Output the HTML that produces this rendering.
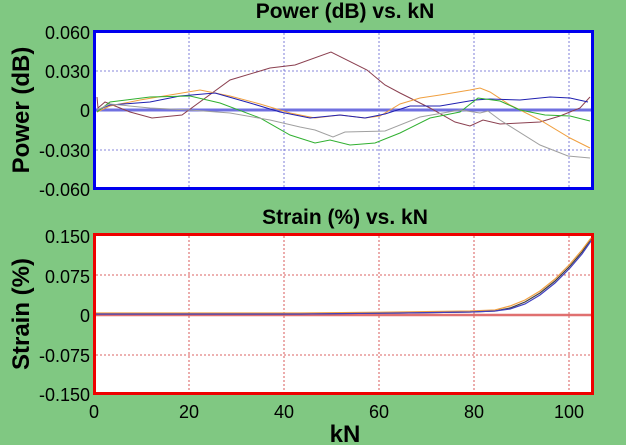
<!DOCTYPE html>
<html><head><meta charset="utf-8"><style>
body{margin:0;background:#80c882;}
svg{display:block;font-family:"Liberation Sans",sans-serif;}
</style></head><body>
<svg width="626" height="445" viewBox="0 0 626 445">
<rect width="626" height="445" fill="#80c882"/>
<text x="345" y="18" font-size="21" font-weight="bold" text-anchor="middle">Power (dB) vs. kN</text>
<text x="345" y="224" font-size="21" font-weight="bold" text-anchor="middle">Strain (%) vs. kN</text>
<text transform="translate(29,110) rotate(-90)" font-size="24" font-weight="bold" text-anchor="middle">Power (dB)</text>
<text transform="translate(29,314) rotate(-90)" font-size="24" font-weight="bold" text-anchor="middle">Strain (%)</text>
<g font-size="18" text-anchor="end">
<text x="90" y="39">0.060</text><text x="90" y="78">0.030</text><text x="90" y="117">0</text><text x="90" y="157">-0.030</text><text x="90" y="196">-0.060</text>
<text x="90" y="243">0.150</text><text x="90" y="283">0.075</text><text x="90" y="322">0</text><text x="90" y="362">-0.075</text><text x="90" y="401">-0.150</text>
</g>
<g font-size="18" text-anchor="middle">
<text x="94" y="418">0</text><text x="189" y="418">20</text><text x="284" y="418">40</text><text x="379" y="418">60</text><text x="474" y="418">80</text><text x="569" y="418">100</text>
</g>
<text x="345" y="442" font-size="24" font-weight="bold" text-anchor="middle">kN</text>
<!-- top plot -->
<rect x="94.5" y="31.5" width="498" height="157" fill="#fff" stroke="#0000ee" stroke-width="3"/>
<g stroke="#6060d0" stroke-width="0.8" stroke-dasharray="2,2">
<line x1="96" y1="71" x2="591" y2="71"/><line x1="96" y1="150" x2="591" y2="150"/>
<line x1="189" y1="33" x2="189" y2="187"/><line x1="284" y1="33" x2="284" y2="187"/><line x1="379" y1="33" x2="379" y2="187"/><line x1="474" y1="33" x2="474" y2="187"/><line x1="569" y1="33" x2="569" y2="187"/>
</g>
<line x1="96" y1="110" x2="591" y2="110" stroke="#7070e0" stroke-width="3"/>
<g fill="none" stroke-width="1">
<polyline stroke="#8b4050" points="97,97 98,108 105,102 130,112 152,118 182,115 230,80 270,68 295,65 331,52 367,70 385,85 400,93 430,108 455,122 470,126 483,120 500,124 540,122 560,116 580,108 590,97"/>
<polyline stroke="#f0a040" points="97,112 110,106 140,100 200,90 230,96 260,104 290,113 315,118 340,115 365,118 380,116 400,104 420,98 440,95 470,90 480,88 490,92 510,105 540,120 570,138 590,148"/>
<polyline stroke="#2020b0" points="97,110 110,105 150,102 180,96 215,93 250,103 280,112 310,118 340,115 365,118 385,114 410,106 440,106 475,100 490,99 520,100 550,97 570,98 588,102"/>
<polyline stroke="#30b030" points="97,112 110,102 150,97 190,96 220,103 260,118 290,135 315,143 330,140 350,145 375,143 400,133 430,118 460,112 478,98 500,101 520,110 545,115 570,116 590,121"/>
<polyline stroke="#a0a0a0" points="97,110 110,104 150,108 190,110 230,113 270,120 300,127 315,130 333,137 345,132 385,131 420,117 460,110 480,113 488,111 500,120 540,145 568,156 590,158"/>
</g>
<!-- bottom plot -->
<rect x="94.5" y="234.5" width="498" height="159" fill="#fff" stroke="#ee0000" stroke-width="3"/>
<g stroke="#d03030" stroke-width="0.8" stroke-dasharray="2,2">
<line x1="96" y1="275" x2="591" y2="275"/><line x1="96" y1="355" x2="591" y2="355"/>
<line x1="189" y1="236" x2="189" y2="392"/><line x1="284" y1="236" x2="284" y2="392"/><line x1="379" y1="236" x2="379" y2="392"/><line x1="474" y1="236" x2="474" y2="392"/><line x1="569" y1="236" x2="569" y2="392"/>
</g>
<line x1="96" y1="315" x2="591" y2="315" stroke="#e07070" stroke-width="2.5"/>
<g fill="none" stroke-width="1.2">
<polyline stroke="#404040" points="96,314 300,314 400,313 470,312 495,311 510,308 525,302 540,293 555,281 570,266 582,252 591,239"/>
<polyline stroke="#f0a040" points="96,313 300,313 400,312 470,311 495,310 510,306 525,300 540,291 555,279 570,264 582,250 591,238"/>
<polyline stroke="#4040c0" points="96,314 300,314 400,313 470,312 495,311 510,309 525,304 540,295 555,283 570,268 582,254 591,241"/>
</g>
</svg>
</body></html>
